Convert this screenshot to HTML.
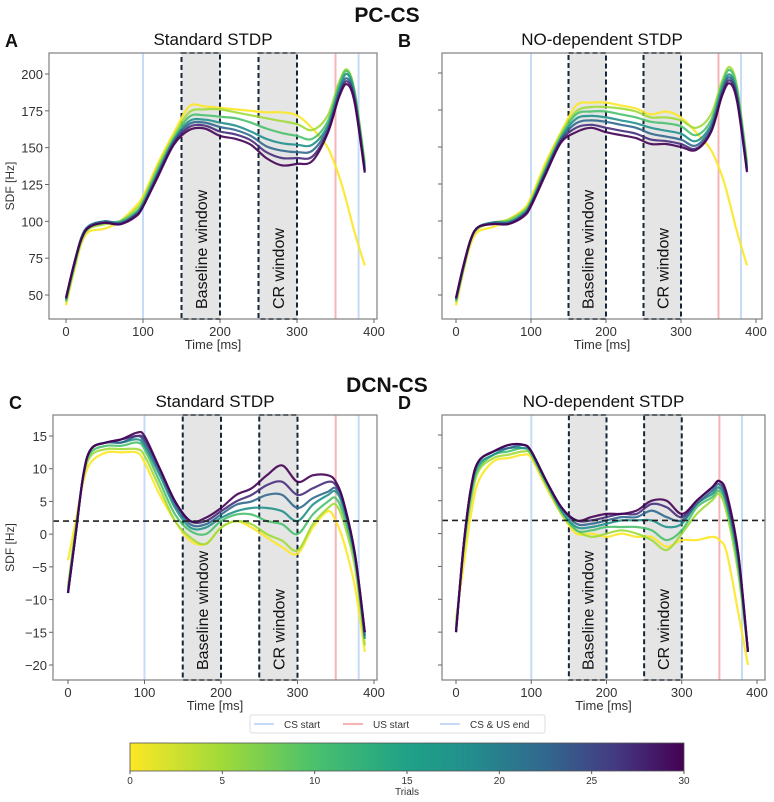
<!DOCTYPE html>
<html><head><meta charset="utf-8"><style>
body{margin:0;background:#fff;width:774px;height:797px;overflow:hidden}
svg text{font-family:"Liberation Sans",sans-serif}
</style></head><body>
<svg id="fig" width="774" height="797" viewBox="0 0 774 797" xmlns="http://www.w3.org/2000/svg">
<defs>
<linearGradient id="vir" x1="0" x2="1" y1="0" y2="0">
<stop offset="0" stop-color="#fde725"/><stop offset="0.167" stop-color="#a0da39"/><stop offset="0.333" stop-color="#4ac16d"/><stop offset="0.5" stop-color="#1fa187"/><stop offset="0.6" stop-color="#21918c"/><stop offset="0.75" stop-color="#31688e"/><stop offset="0.875" stop-color="#443a83"/><stop offset="1" stop-color="#440154"/>
</linearGradient>
</defs>
<text x="387" y="22" font-size="21" font-weight="bold" text-anchor="middle" fill="#111">PC-CS</text>
<text x="387" y="392" font-size="21" font-weight="bold" text-anchor="middle" fill="#111">DCN-CS</text>
<g id="panels"></g>
<g>
<rect x="250" y="715" width="295" height="18" fill="#fff" stroke="#ddd" stroke-width="1" rx="2"/>
<line x1="254" y1="724" x2="274" y2="724" stroke="#c6dbf7" stroke-width="2"/>
<text x="284" y="728" font-size="10" fill="#333">CS start</text>
<line x1="343" y1="724" x2="363" y2="724" stroke="#f5b5b5" stroke-width="2"/>
<text x="373" y="728" font-size="10" fill="#333">US start</text>
<line x1="440" y1="724" x2="460" y2="724" stroke="#c6dbf7" stroke-width="2"/>
<text x="470" y="728" font-size="10" fill="#333">CS &amp; US end</text>
</g>
<g>
<rect x="130" y="743" width="554" height="28" fill="url(#vir)" stroke="#555" stroke-width="0.8"/>
<g id="cbticks"></g>
<text x="407" y="795" font-size="10" text-anchor="middle" fill="#333">Trials</text>
</g>
</svg>
<script>
const NS="http://www.w3.org/2000/svg";
const timesPC=[0,10,20,30,50,70,90,100,120,140,160,180,200,220,240,260,280,300,320,340,355,365,375,388];
const timesDCN=[0,10,20,30,50,70,90,100,120,140,160,180,200,220,240,260,280,300,320,340,350,360,375,388];
const trials=[0,5,10,15,20,25,30];
const trialColors=["#fde725","#a0da39","#4ac16d","#21918c","#31688e","#472d7b","#440154"];
const seriesA=[
[43,65,85,93,95,100,110,117,140,160,178,178,177,176,175,174,174,172,163,150,130,112,92,70],
[45,67,86,95,98,100,108,115,138,158,174,176,176,174,172,170,168,166,162,172,195,203,188,140],
[46,68,88,96,99,100,106,113,136,156,171,172,171,170,167,163,160,158,156,168,193,202,187,138],
[47,69,89,97,100,99,105,112,134,155,168,169,167,165,161,156,153,152,152,165,190,200,185,136],
[47,70,89,97,100,99,104,111,133,154,166,167,164,162,158,151,148,147,148,163,188,197,183,135],
[48,70,88,96,99,98,104,110,132,153,164,165,161,159,155,147,143,143,144,161,186,195,182,134],
[48,70,88,96,99,98,103,110,131,152,162,163,158,156,152,143,138,139,141,160,185,193,180,133]];
const seriesB=[
[43,66,85,93,96,101,108,116,140,160,178,180,180,178,176,172,174,170,160,148,130,112,92,70],
[45,68,87,95,99,101,107,114,138,159,174,177,177,176,174,170,170,168,163,172,195,204,190,140],
[46,68,88,96,99,100,106,113,136,157,172,174,174,172,170,167,166,164,158,168,193,202,188,138],
[47,69,88,96,99,99,105,112,135,156,169,171,170,168,166,163,161,159,154,165,190,199,185,136],
[47,69,88,96,99,99,104,111,134,155,166,168,167,165,163,159,157,155,151,163,188,197,183,135],
[48,70,88,96,98,98,104,111,133,154,163,165,163,161,159,155,154,152,149,161,186,195,182,134],
[48,70,88,96,98,98,103,110,132,153,160,163,160,158,156,152,152,150,148,160,185,193,180,133]];
const seriesC=[
[-4,2,8,11,12.5,12.5,12.5,11,6,2,-1,-1.5,1,2,1,-0.5,-2,-3,1,3.5,2,-1,-8,-18],
[-8,1,8.5,12,13,13,13,12,7,2,-0.5,-1.5,1,2,1.5,0,-1,-2.5,1.5,4,4.5,2,-5,-17],
[-8.5,0.5,9,12.5,13.5,13.5,14,13,8,3,0.5,0,2,3,3,2,1.5,0,3,5,5.5,3,-4,-16],
[-9,0,9,13,14,14,14.5,13.5,9,4,1,1,2.5,3.5,4,4,3.5,2,4.5,6,6.5,4,-3.5,-16],
[-9,0,9,13,14,14,15,14,9.5,4.5,1.5,1.5,3,4.5,5,6,6,4,5.5,6.5,7,4.5,-3,-15.5],
[-9,0,9,13,14,14.5,15,14.5,10,5,2,2,3.5,5,6,7.5,8,6,7,8,7.5,5,-3,-15],
[-9,0,9,13,14,14.5,15.5,15,10,5,2,2.5,4,6,7,9,10.5,8,9,9,8,5,-3,-15]];
const seriesD=[
[-13,-5,3,8,11,11.5,12,11.5,7,3,0,0,-0.5,0,-0.5,-0.5,-2,-1,-1,-0.5,-1,-3,-12,-20],
[-14,-3,5,9.5,11.5,12,12.5,12,7.5,3,0.5,-0.5,0,0.5,0,-1,-2.5,0,3,5,6,3,-6,-18],
[-14.5,-2.5,6,10,12,12.5,13,12,7.5,3.5,0.5,0.5,1,1,1,0.5,-1,0.5,4,5.5,6.5,4,-5,-18],
[-15,-2,6.5,10.5,12,13,13,12.5,8,3.5,1,1,1.5,2,2,2,1,1.5,4.5,6,7,4.5,-4,-18],
[-15,-2,7,11,12.5,13,13.5,12.5,8,4,1.5,1.5,2,2.5,2.5,3.5,2.5,2,4.5,6.5,7.5,5,-3.5,-18],
[-15,-2,7,11,12.5,13.5,13.5,12.5,8,4,2,2,2.5,3,3,4.5,4,2.5,5,7,8,5.5,-3,-18],
[-15,-2,7,11,12.5,13.5,13.5,12.5,8,4,2,2.5,3,3,3.5,5,5,3,5,7,8,6,-3,-18]];
const xTicks=[0,100,200,300,400];
const yTicksPC=[50,75,100,125,150,175,200];
const yTicksDCN=[-20,-15,-10,-5,0,5,10,15];
const cbTicks=[0,5,10,15,20,25,30];
const events=[100,350,380];
const windows=[[150,200,"Baseline window"],[250,300,"CR window"]];
const threshold=2;

const panels=[
 {id:"a",letter:"A",title:"Standard STDP",t:timesPC,s:seriesA,box:[49,53,377,319],x0:66,x400:374,ya:[200,74],yb:[50,295],yt:yTicksPC,labels:true,thr:false},
 {id:"b",letter:"B",title:"NO-dependent STDP",t:timesPC,s:seriesB,box:[442,53,762,319],x0:456,x400:756,ya:[200,73],yb:[50,295],yt:yTicksPC,labels:false,thr:false},
 {id:"c",letter:"C",title:"Standard STDP",t:timesDCN,s:seriesC,box:[53,415,377,680],x0:68,x400:374,ya:[15,436],yb:[-20,665],yt:yTicksDCN,labels:true,thr:true},
 {id:"d",letter:"D",title:"NO-dependent STDP",t:timesDCN,s:seriesD,box:[442,415,765,680],x0:456,x400:757,ya:[15,435],yb:[-20,665],yt:yTicksDCN,labels:false,thr:true}];

function el(tag,attrs,parent){const e=document.createElementNS(NS,tag);for(const k in attrs)e.setAttribute(k,attrs[k]);parent.appendChild(e);return e;}
function smooth(pts){let d="M"+pts[0][0].toFixed(1)+","+pts[0][1].toFixed(1);
 for(let i=0;i<pts.length-1;i++){const p0=pts[i-1]||pts[i],p1=pts[i],p2=pts[i+1],p3=pts[i+2]||p2;
  const c1=[p1[0]+(p2[0]-p0[0])/6,p1[1]+(p2[1]-p0[1])/6],c2=[p2[0]-(p3[0]-p1[0])/6,p2[1]-(p3[1]-p1[1])/6];
  d+="C"+c1[0].toFixed(1)+","+c1[1].toFixed(1)+" "+c2[0].toFixed(1)+","+c2[1].toFixed(1)+" "+p2[0].toFixed(1)+","+p2[1].toFixed(1);}
 return d;}
const root=document.getElementById("panels");
panels.forEach(P=>{
 const X=v=>P.x0+(v)*(P.x400-P.x0)/400;
 const Y=v=>P.ya[1]+(P.ya[0]-v)*(P.yb[1]-P.ya[1])/(P.ya[0]-P.yb[0]);
 const [L,T,R,B]=P.box;
 const g=el("g",{},root);
 
 
 const lt=el("text",{x:L-44,y:T-6,"font-size":18,"font-weight":"bold",fill:"#111"},g);lt.textContent=P.letter;
 
 
 const tt=el("text",{x:(L+R)/2,y:T-8,"font-size":17,"text-anchor":"middle",fill:"#111"},g);tt.textContent=P.title;
 
 
 windows.forEach(w=>{
  const r=el("rect",{x:X(w[0]),y:T,width:X(w[1])-X(w[0]),height:B-T,fill:"#e5e5e5",stroke:"#14263a","stroke-width":2,"stroke-dasharray":"5,3"},g);
  
  
  const cx=(X(w[0])+X(w[1]))/2+6, cy=B-10;
  const wt=el("text",{x:cx,y:cy,"font-size":16,fill:"#111",transform:"rotate(-90 "+cx+" "+cy+")"},g);wt.textContent=w[2];
  
  
 });
 const evc=["#c6dbf7","#f5b5b5","#c6dbf7"];
 events.forEach((e,i)=>{const ln=el("line",{x1:X(e),x2:X(e),y1:T,y2:B,stroke:evc[i],"stroke-width":2},g);
  
  });
 P.s.forEach((vals,k)=>{
  const pts=vals.map((v,i)=>[X(P.t[i]),Y(v)]);
  const p=el("path",{d:smooth(pts),fill:"none",stroke:trialColors[k],"stroke-width":2.2,"stroke-opacity":0.9},g);
  
  
 });
 if(P.thr){const h=el("line",{x1:L,x2:R,y1:Y(threshold),y2:Y(threshold),stroke:"#222","stroke-width":1.6,"stroke-dasharray":"6,4"},g);
  
  }
 const bx=el("rect",{x:L,y:T,width:R-L,height:B-T,fill:"none",stroke:"#888","stroke-width":1.3},g);
 
 
 xTicks.forEach(v=>{el("line",{x1:X(v),x2:X(v),y1:B,y2:B+4,stroke:"#666"},g);
  const tx=el("text",{x:X(v),y:B+17,"font-size":13,"text-anchor":"middle",fill:"#333"},g);tx.textContent=v;
  
  });
 const xl=el("text",{x:(L+R)/2,y:B+30,"font-size":13,"text-anchor":"middle",fill:"#333"},g);xl.textContent="Time [ms]";
 
 
 P.yt.forEach(v=>{el("line",{x1:L-4,x2:L,y1:Y(v),y2:Y(v),stroke:"#666"},g);
  if(P.labels){const ty=el("text",{x:L-6,y:Y(v)+5,"font-size":13,"text-anchor":"end",fill:"#333"},g);ty.textContent=(v<0?"\u2212"+(-v):v);
  
  }});
 if(P.labels){const cy=(T+B)/2;const yl=el("text",{x:14,y:cy,"font-size":12,"text-anchor":"middle",fill:"#333",transform:"rotate(-90 14 "+cy+")"},g);yl.textContent="SDF [Hz]";
  
  }
});
const cb=document.getElementById("cbticks");
cbTicks.forEach(v=>{const x=130+v*554/30;el("line",{x1:x,x2:x,y1:771,y2:774,stroke:"#555"},cb);
 const t=el("text",{x:x,y:784,"font-size":10,"text-anchor":"middle",fill:"#333"},cb);t.textContent=v;
 
 });
</script>
</body></html>
